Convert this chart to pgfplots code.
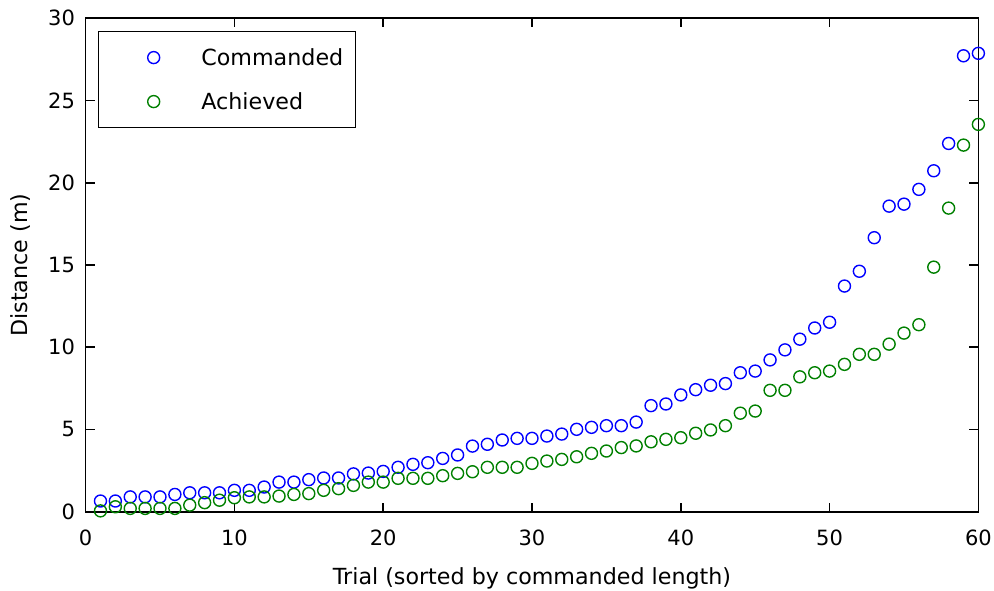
\documentclass[border=0pt]{standalone}
\usepackage{fontspec}
\setmainfont{DejaVu Sans}
\usepackage{pgfplots}
\pgfplotsset{compat=1.18}
\definecolor{mblue}{RGB}{0,0,255}
\definecolor{mgreen}{RGB}{0,128,0}
\begin{document}
\begin{tikzpicture}
\useasboundingbox (-42.8pt,-39.15pt) rectangle (454.2pt,255.85pt);
\begin{axis}[
  scale only axis,
  width=446.4pt, height=246.7pt,
  xmin=0, xmax=60, ymin=0, ymax=30,
  xtick={0,10,...,60}, ytick={0,5,...,30},
  /pgf/number format/assume math mode=true,
  tick label style={font=\fontsize{10.5}{12}\selectfont},
  xticklabel style={yshift=-5.6pt},
  yticklabel style={xshift=-1.8pt},
  major tick length=4.5pt,
  tick style={black, line width=0.8pt},
  axis line style={black, line width=0.9pt},
  label style={font=\fontsize{11.1}{13}\selectfont},
  xlabel={Trial (sorted by commanded length)},
  ylabel={Distance (m)},
  xlabel style={at={(axis description cs:0.5,0)}, anchor=north, yshift=-24.6pt},
  ylabel style={at={(axis description cs:-0.0918,0.5)}, anchor=north, rotate=0},
  legend cell align=left,
  legend image code/.code={\path (0pt,0pt) (44.6pt,0pt); \draw[#1, only marks] plot coordinates {(21.1pt,0pt)};},
  legend style={at={(axis description cs:0.01355,0.9749)}, anchor=north west,
    draw=black, line width=0.9pt, fill=white, inner xsep=6.1pt, inner ysep=2pt,
    row sep=0pt,
    font=\fontsize{11.1}{13}\selectfont,
    nodes={inner sep=0pt, text height=15.05pt, text depth=6.95pt}},
]
\addplot[only marks, mark=o, mark size=3pt, mblue, line width=0.7pt] coordinates {
(1,0.65) (2,0.65) (3,0.9) (4,0.9) (5,0.9) (6,1.05) (7,1.15) (8,1.15) (9,1.15) (10,1.3)
(11,1.3) (12,1.5) (13,1.8) (14,1.8) (15,1.95) (16,2.05) (17,2.05) (18,2.3) (19,2.35) (20,2.45)
(21,2.70) (22,2.88) (23,2.98) (24,3.24) (25,3.45) (26,3.99) (27,4.10) (28,4.36) (29,4.46) (30,4.46)
(31,4.60) (32,4.72) (33,5.01) (34,5.13) (35,5.23) (36,5.23) (37,5.45) (38,6.45) (39,6.55) (40,7.1)
(41,7.42) (42,7.69) (43,7.79) (44,8.45) (45,8.55) (46,9.23) (47,9.84) (48,10.49) (49,11.17) (50,11.52)
(51,13.72) (52,14.62) (53,16.66) (54,18.58) (55,18.7) (56,19.6) (57,20.73) (58,22.39) (59,27.72) (60,27.87)
};
\addlegendentry{Commanded}
\addplot[only marks, mark=o, mark size=3pt, mgreen, line width=0.7pt] coordinates {
(1,0.05) (2,0.3) (3,0.2) (4,0.2) (5,0.2) (6,0.2) (7,0.4) (8,0.55) (9,0.7) (10,0.85)
(11,0.9) (12,0.9) (13,0.95) (14,1.05) (15,1.1) (16,1.3) (17,1.4) (18,1.6) (19,1.8) (20,1.8)
(21,2.03) (22,2.03) (23,2.03) (24,2.19) (25,2.33) (26,2.43) (27,2.70) (28,2.70) (29,2.70) (30,2.94)
(31,3.08) (32,3.18) (33,3.34) (34,3.55) (35,3.69) (36,3.9) (37,4.0) (38,4.25) (39,4.4) (40,4.5)
(41,4.77) (42,4.97) (43,5.23) (44,5.99) (45,6.12) (46,7.38) (47,7.38) (48,8.20) (49,8.45) (50,8.55)
(51,8.96) (52,9.57) (53,9.57) (54,10.19) (55,10.86) (56,11.37) (57,14.87) (58,18.46) (59,22.29) (60,23.55)
};
\addlegendentry{Achieved}
\end{axis}
\end{tikzpicture}
\end{document}
